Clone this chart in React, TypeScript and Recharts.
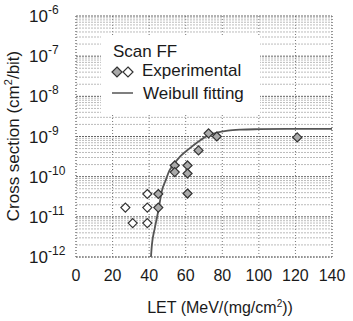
import React from "react";
import {
  ComposedChart,
  Line,
  Scatter,
  XAxis,
  YAxis,
  CartesianGrid,
  ReferenceLine,
} from "recharts";

// LET (MeV/(mg/cm2)) vs cross section (cm2/bit)
const openLet = [27, 31, 39, 39, 39];
const openSigma = [1.7e-11, 7e-12, 3.7e-11, 1.7e-11, 7e-12];

const grayLet = [45, 45, 54, 54, 61, 61, 61, 67, 72.5, 77, 121];
const graySigma = [
  3.7e-11, 1.7e-11, 1.9e-10, 1.3e-10, 1.9e-10, 1.2e-10, 3.8e-11, 4.5e-10,
  1.2e-9, 1.0e-9, 9.5e-10,
];

const fitLet = [41, 41.5, 43, 45, 47, 49, 51, 53, 57, 62, 67, 72, 77, 83, 90, 100, 120, 140];
const fitSigma = [
  1e-12, 2e-12, 5e-12, 1.4e-11, 4.5e-11, 8e-11, 1.4e-10, 1.9e-10, 3.2e-10,
  5e-10, 7.5e-10, 1.05e-9, 1.25e-9, 1.4e-9, 1.48e-9, 1.52e-9, 1.55e-9, 1.55e-9,
];

const xTicks = [0, 20, 40, 60, 80, 100, 120, 140];
const yTicks = [1e-12, 1e-11, 1e-10, 1e-9, 1e-8, 1e-7, 1e-6];
const decades = [-12, -11, -10, -9, -8, -7];
const minorSteps = [2, 3, 4, 5, 6, 7, 8, 9];

const openData = openLet.map((x, i) => ({ x, y: openSigma[i] }));
const grayData = grayLet.map((x, i) => ({ x, y: graySigma[i] }));
const fitData = fitLet.map((x, i) => ({ x, y: fitSigma[i] }));
const minorLines = decades.flatMap((d) => minorSteps.map((m) => m * Math.pow(10, d)));

const font = "'Liberation Sans', Arial, sans-serif";

const Diamond = (fill: string) => (props: any) => {
  const { cx, cy } = props;
  const r = 4.5;
  return (
    <polygon
      points={`${cx},${cy - r} ${cx + r},${cy} ${cx},${cy + r} ${cx - r},${cy}`}
      fill={fill}
      stroke="#333"
      strokeWidth={1.2}
    />
  );
};

const YTick = (props: any) => {
  const { x, y, payload } = props;
  const exp = Math.round(Math.log10(payload.value));
  return (
    <text x={x - 20} y={y + 6} textAnchor="end" fontSize={17} fill="#1a1a1a" fontFamily={font}>
      10
      <tspan x={x - 20} dy={-8} fontSize={12} textAnchor="start">
        {exp}
      </tspan>
    </text>
  );
};

const XTick = (props: any) => {
  const { x, y, payload } = props;
  return (
    <text x={x} y={y + 16} textAnchor="middle" fontSize={16} fill="#1a1a1a" fontFamily={font}>
      {payload.value}
    </text>
  );
};

export default function App() {
  return (
    <div style={{ position: "absolute", left: 0, top: 0, width: 353, height: 321, background: "#fff" }}>
      <ComposedChart
        width={353}
        height={321}
        margin={{ top: 16, right: 21, bottom: 0, left: 0 }}
      >
        <CartesianGrid
          horizontal={false}
          stroke="#777"
          strokeDasharray="1 2"
          verticalValues={xTicks}
        />
        <XAxis
          dataKey="x"
          type="number"
          domain={[0, 140]}
          ticks={xTicks}
          height={64}
          tick={<XTick />}
          tickLine={false}
          axisLine={{ stroke: "#777", strokeDasharray: "1 2" }}
        />
        <YAxis
          dataKey="y"
          type="number"
          scale="log"
          domain={[1e-12, 1e-6]}
          ticks={yTicks}
          width={76}
          tick={<YTick />}
          tickLine={false}
          axisLine={{ stroke: "#777", strokeDasharray: "1 2" }}
        />
        {minorLines.map((v) => (
          <ReferenceLine key={v} y={v} stroke="#aaa" strokeDasharray="2 1" strokeWidth={0.8} />
        ))}
        {yTicks.map((v) => (
          <ReferenceLine key={"m" + v} y={v} stroke="#666" strokeDasharray="2 1" strokeWidth={1} />
        ))}
        <ReferenceLine x={140} stroke="#777" strokeDasharray="1 2" />
        <Line
          data={fitData}
          dataKey="y"
          type="monotone"
          stroke="#555"
          strokeWidth={1.8}
          dot={false}
          isAnimationActive={false}
        />
        <Scatter data={openData} dataKey="y" shape={Diamond("#fff")} isAnimationActive={false} />
        <Scatter data={grayData} dataKey="y" shape={Diamond("#aaa")} isAnimationActive={false} />
        <text
          x={15}
          y={136}
          transform="rotate(-90 15 136)"
          textAnchor="middle"
          dominantBaseline="middle"
          fontSize={17}
          fill="#1a1a1a"
          fontFamily={font}
        >
          Cross section (cm
          <tspan dy={-6} fontSize={11}>2</tspan>
          <tspan dy={6}>/bit)</tspan>
        </text>
        <text x={220} y={313} textAnchor="middle" fontSize={16} fill="#1a1a1a" fontFamily={font}>
          LET (MeV/(mg/cm
          <tspan dy={-6} fontSize={10}>2</tspan>
          <tspan dy={6}>))</tspan>
        </text>
      </ComposedChart>
      <div
        style={{
          position: "absolute",
          left: 101,
          top: 35,
          width: 159,
          height: 78,
          background: "#fff",
          fontFamily: font,
          fontSize: 17,
          color: "#1a1a1a",
        }}
      >
        <div style={{ position: "absolute", left: 12, top: 7 }}>Scan FF</div>
        <svg style={{ position: "absolute", left: 10, top: 30 }} width={32} height={14}>
          <polygon points="6,2 11,7 6,12 1,7" fill="#aaa" stroke="#333" strokeWidth={1.2} />
          <polygon points="17,2 22,7 17,12 12,7" fill="#fff" stroke="#333" strokeWidth={1.2} />
        </svg>
        <div style={{ position: "absolute", left: 41, top: 26 }}>Experimental</div>
        <svg style={{ position: "absolute", left: 10, top: 53 }} width={24} height={10}>
          <line x1={1} y1={5} x2={22} y2={5} stroke="#555" strokeWidth={1.5} />
        </svg>
        <div style={{ position: "absolute", left: 42, top: 49 }}>Weibull fitting</div>
      </div>
    </div>
  );
}
